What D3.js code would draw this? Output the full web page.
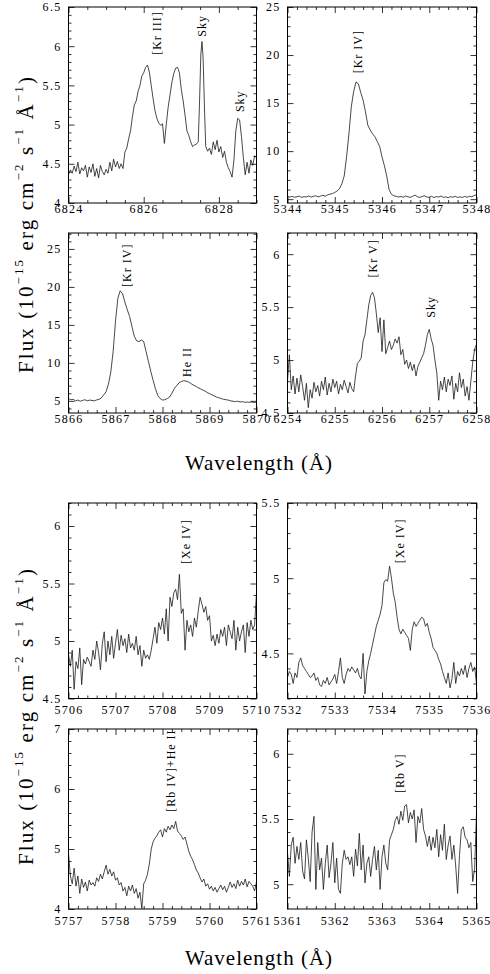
<!DOCTYPE html>
<html lang="en">
<head>
<meta charset="utf-8">
<title>Kr, Xe and Rb emission line profiles</title>
<script src="https://d3js.org/d3.v7.min.js"></script>
<style>
  body { margin: 0; background: #fff; }
  svg { display: block; }
  text { font-family: "Liberation Serif", "DejaVu Serif", serif; fill: #000; }
  .tick text { font-size: 12px; letter-spacing: 1.3px; }
  .tick line { stroke: #000; stroke-width: 0.8; }
  .frame { fill: none; stroke: #000; stroke-width: 1; }
  .spec { fill: none; stroke: #1a1a1a; stroke-width: 0.8; }
  .ion { font-size: 12px; letter-spacing: 1px; }
  .axis-title { font-size: 21px; letter-spacing: 1px; }
  .y-title { font-size: 21px; letter-spacing: 2.1px; }
</style>
</head>
<body>
<div id="chart"></div>
<script>
// spectra: [wavelength (A), flux (1e-15 erg cm-2 s-1 A-1)]
const krIII6826 = [
  [6824.00,4.36],[6824.05,4.42],[6824.10,4.38],[6824.15,4.47],[6824.20,4.40],[6824.25,4.52],[6824.30,4.37],[6824.35,4.45],
  [6824.40,4.41],[6824.45,4.48],[6824.50,4.33],[6824.55,4.46],[6824.60,4.39],[6824.65,4.50],[6824.70,4.34],[6824.75,4.44],
  [6824.80,4.32],[6824.85,4.48],[6824.90,4.40],[6824.95,4.36],[6825.00,4.43],[6825.05,4.38],[6825.10,4.52],[6825.15,4.41],
  [6825.20,4.56],[6825.25,4.46],[6825.30,4.53],[6825.35,4.44],[6825.40,4.50],[6825.45,4.44],[6825.50,4.65],[6825.55,4.70],
  [6825.60,4.82],[6825.65,4.92],[6825.70,5.10],[6825.75,5.25],[6825.80,5.30],[6825.85,5.42],[6825.90,5.50],[6825.95,5.62],
  [6826.00,5.66],[6826.05,5.73],[6826.10,5.76],[6826.15,5.67],[6826.20,5.50],[6826.25,5.33],[6826.30,5.18],[6826.35,5.08],
  [6826.40,5.02],[6826.45,4.99],[6826.50,5.01],[6826.55,4.76],[6826.60,5.00],[6826.65,5.22],[6826.70,5.38],[6826.75,5.54],
  [6826.80,5.65],[6826.85,5.72],[6826.90,5.73],[6826.95,5.66],[6827.00,5.45],[6827.05,5.30],[6827.10,5.12],[6827.15,4.92],
  [6827.20,4.86],[6827.25,4.78],[6827.30,4.72],[6827.35,4.74],[6827.40,4.75],[6827.45,4.78],[6827.48,5.20],[6827.52,5.90],
  [6827.55,6.06],[6827.58,5.85],[6827.62,5.15],[6827.65,4.72],[6827.70,4.66],[6827.75,4.70],[6827.80,4.62],[6827.85,4.78],
  [6827.90,4.68],[6827.95,4.80],[6828.00,4.65],[6828.05,4.72],[6828.10,4.58],[6828.15,4.66],[6828.20,4.52],[6828.25,4.45],
  [6828.30,4.40],[6828.35,4.33],[6828.40,4.55],[6828.45,4.92],[6828.50,5.08],[6828.55,5.06],[6828.60,4.85],[6828.65,4.58],
  [6828.70,4.36],[6828.75,4.52],[6828.80,4.38],[6828.85,4.55],[6828.90,4.48],[6828.95,4.60],[6829.00,4.58]
];

const krIV5346 = [
  [5344.00,5.30],[5344.05,5.22],[5344.10,5.28],[5344.15,5.20],[5344.20,5.25],[5344.25,5.31],[5344.30,5.18],[5344.35,5.27],
  [5344.40,5.22],[5344.45,5.33],[5344.50,5.21],[5344.55,5.29],[5344.60,5.35],[5344.65,5.24],[5344.70,5.32],[5344.75,5.40],
  [5344.80,5.30],[5344.85,5.45],[5344.90,5.52],[5344.95,5.58],[5345.00,5.70],[5345.05,5.85],[5345.10,6.10],[5345.15,6.60],
  [5345.20,7.40],[5345.25,9.40],[5345.30,11.80],[5345.35,14.60],[5345.40,16.20],[5345.45,17.20],[5345.50,17.00],[5345.55,16.10],
  [5345.60,15.30],[5345.65,14.10],[5345.70,12.70],[5345.75,12.20],[5345.80,11.80],[5345.85,11.50],[5345.90,11.00],[5345.95,10.50],
  [5346.00,9.40],[5346.05,8.50],[5346.10,7.40],[5346.15,6.00],[5346.20,5.50],[5346.25,5.35],[5346.30,5.30],[5346.35,5.22],
  [5346.40,5.28],[5346.45,5.20],[5346.50,5.33],[5346.55,5.24],[5346.60,5.19],[5346.65,5.30],[5346.70,5.42],[5346.75,5.25],
  [5346.80,5.18],[5346.85,5.28],[5346.90,5.35],[5346.95,5.22],[5347.00,5.20],[5347.05,5.30],[5347.10,5.16],[5347.15,5.27],
  [5347.20,5.22],[5347.25,5.32],[5347.30,5.18],[5347.35,5.25],[5347.40,5.15],[5347.45,5.26],[5347.50,5.20],[5347.55,5.30],
  [5347.60,5.17],[5347.65,5.24],[5347.70,5.18],[5347.75,5.28],[5347.80,5.20],[5347.85,5.30],[5347.90,5.25],[5347.95,5.38],
  [5348.00,5.45]
];

const krIV5868 = [
  [5866.00,5.30],[5866.05,5.15],[5866.10,5.20],[5866.15,5.00],[5866.20,5.10],[5866.25,4.95],[5866.30,5.05],[5866.35,5.15],
  [5866.40,5.00],[5866.45,5.10],[5866.50,5.05],[5866.55,5.00],[5866.60,5.12],[5866.65,5.20],[5866.70,5.40],[5866.75,5.80],
  [5866.80,6.20],[5866.85,7.20],[5866.90,8.80],[5866.95,11.50],[5867.00,15.50],[5867.05,18.50],[5867.10,19.50],[5867.15,19.10],
  [5867.20,18.00],[5867.25,17.00],[5867.30,16.10],[5867.35,14.80],[5867.40,13.50],[5867.45,12.90],[5867.50,12.80],[5867.55,13.00],
  [5867.60,12.80],[5867.65,11.50],[5867.70,10.20],[5867.75,8.90],[5867.80,7.70],[5867.85,6.60],[5867.90,5.70],[5867.95,5.30],
  [5868.00,5.10],[5868.05,5.15],[5868.10,5.30],[5868.15,5.50],[5868.20,6.00],[5868.25,6.60],[5868.30,7.00],[5868.35,7.35],
  [5868.40,7.55],[5868.45,7.65],[5868.50,7.60],[5868.55,7.50],[5868.60,7.30],[5868.65,7.10],[5868.70,6.95],[5868.75,6.75],
  [5868.80,6.60],[5868.85,6.45],[5868.90,6.30],[5868.95,6.10],[5869.00,5.95],[5869.05,5.80],[5869.10,5.65],[5869.15,5.50],
  [5869.20,5.40],[5869.25,5.30],[5869.30,5.20],[5869.35,5.15],[5869.40,5.10],[5869.45,5.00],[5869.50,4.95],[5869.55,4.90],
  [5869.60,4.95],[5869.65,4.85],[5869.70,4.90],[5869.75,4.80],[5869.80,4.85],[5869.85,4.80],[5869.90,4.85],[5869.95,4.78],
  [5870.00,4.85]
];

const krV6256 = [
  [6254.00,4.80],[6254.04,5.05],[6254.08,4.72],[6254.12,4.85],[6254.16,4.68],[6254.20,4.83],[6254.24,4.70],[6254.28,4.86],
  [6254.32,4.75],[6254.36,4.62],[6254.40,4.78],[6254.44,4.55],[6254.48,4.72],[6254.52,4.64],[6254.56,4.79],[6254.60,4.70],
  [6254.64,4.76],[6254.68,4.66],[6254.72,4.80],[6254.76,4.72],[6254.80,4.84],[6254.84,4.67],[6254.88,4.78],[6254.92,4.70],
  [6254.96,4.82],[6255.00,4.74],[6255.04,4.80],[6255.08,4.68],[6255.12,4.77],[6255.16,4.72],[6255.20,4.81],[6255.24,4.75],
  [6255.28,4.69],[6255.32,4.79],[6255.36,4.73],[6255.40,4.70],[6255.44,4.85],[6255.48,4.97],[6255.52,4.99],[6255.56,5.02],
  [6255.60,5.18],[6255.64,5.24],[6255.68,5.38],[6255.72,5.52],[6255.76,5.61],[6255.80,5.64],[6255.84,5.59],[6255.88,5.44],
  [6255.92,5.26],[6255.96,5.40],[6256.00,5.08],[6256.04,5.38],[6256.08,5.06],[6256.12,5.12],[6256.16,5.18],[6256.20,5.10],
  [6256.24,5.14],[6256.28,5.20],[6256.32,5.16],[6256.36,5.22],[6256.40,5.05],[6256.44,5.10],[6256.48,4.96],[6256.52,5.00],
  [6256.56,4.92],[6256.60,4.98],[6256.64,4.90],[6256.68,4.96],[6256.72,4.85],[6256.76,4.94],[6256.80,4.98],[6256.84,5.02],
  [6256.88,5.06],[6256.92,5.14],[6256.96,5.24],[6257.00,5.29],[6257.04,5.20],[6257.08,5.14],[6257.12,5.00],[6257.16,4.88],
  [6257.20,4.62],[6257.24,4.80],[6257.28,4.72],[6257.32,4.84],[6257.36,4.70],[6257.40,4.82],[6257.44,4.76],[6257.48,4.85],
  [6257.52,4.63],[6257.56,4.78],[6257.60,4.70],[6257.64,4.88],[6257.68,4.74],[6257.72,4.82],[6257.76,4.66],[6257.80,4.75],
  [6257.84,4.62],[6257.88,4.80],[6257.92,4.98],[6257.96,5.10],[6258.00,5.15]
];

const xeIV5709 = [
  [5706.00,4.88],[5706.04,4.78],[5706.08,4.92],[5706.12,4.58],[5706.16,4.82],[5706.20,4.76],[5706.24,4.94],[5706.28,4.62],
  [5706.32,4.84],[5706.36,4.80],[5706.40,4.86],[5706.44,4.82],[5706.48,4.78],[5706.52,4.92],[5706.56,4.84],[5706.60,5.00],
  [5706.64,4.90],[5706.68,4.75],[5706.72,4.98],[5706.76,5.08],[5706.80,4.82],[5706.84,5.00],[5706.88,4.88],[5706.92,5.04],
  [5706.96,4.85],[5707.00,4.98],[5707.04,5.10],[5707.08,4.92],[5707.12,5.05],[5707.16,4.96],[5707.20,5.02],[5707.24,4.90],
  [5707.28,5.06],[5707.32,4.94],[5707.36,4.98],[5707.40,4.92],[5707.44,5.04],[5707.48,4.88],[5707.52,4.96],[5707.56,4.78],
  [5707.60,4.92],[5707.64,4.85],[5707.68,4.88],[5707.72,4.84],[5707.76,4.92],[5707.80,5.02],[5707.84,5.12],[5707.88,4.98],
  [5707.92,5.16],[5707.96,5.10],[5708.00,5.20],[5708.04,5.06],[5708.08,5.28],[5708.12,5.00],[5708.16,5.38],[5708.20,5.30],
  [5708.24,5.42],[5708.28,5.45],[5708.32,5.36],[5708.36,5.58],[5708.40,5.24],[5708.44,5.28],[5708.48,4.92],[5708.52,5.18],
  [5708.56,5.08],[5708.60,5.14],[5708.64,5.04],[5708.68,5.20],[5708.72,5.12],[5708.76,5.26],[5708.80,5.38],[5708.84,5.32],
  [5708.88,5.25],[5708.92,5.30],[5708.96,5.18],[5709.00,5.22],[5709.04,5.00],[5709.08,5.05],[5709.12,4.96],[5709.16,5.06],
  [5709.20,4.98],[5709.24,5.10],[5709.28,5.04],[5709.32,5.12],[5709.36,4.96],[5709.40,5.14],[5709.44,5.08],[5709.48,5.02],
  [5709.52,5.18],[5709.56,4.92],[5709.60,5.12],[5709.64,5.00],[5709.68,5.08],[5709.72,5.14],[5709.76,4.90],[5709.80,5.16],
  [5709.84,5.04],[5709.88,5.18],[5709.92,5.10],[5709.96,5.14],[5710.00,5.42]
];

const xeIV7534 = [
  [7532.00,4.34],[7532.04,4.38],[7532.08,4.36],[7532.12,4.30],[7532.16,4.37],[7532.20,4.34],[7532.24,4.44],[7532.28,4.47],
  [7532.32,4.42],[7532.36,4.40],[7532.40,4.38],[7532.44,4.36],[7532.48,4.34],[7532.52,4.35],[7532.56,4.37],[7532.60,4.32],
  [7532.64,4.34],[7532.68,4.29],[7532.72,4.28],[7532.76,4.32],[7532.80,4.30],[7532.84,4.34],[7532.88,4.29],[7532.92,4.31],
  [7532.96,4.33],[7533.00,4.36],[7533.04,4.30],[7533.08,4.38],[7533.12,4.47],[7533.16,4.34],[7533.20,4.30],[7533.24,4.36],
  [7533.28,4.40],[7533.32,4.38],[7533.36,4.41],[7533.40,4.39],[7533.44,4.37],[7533.48,4.40],[7533.52,4.35],[7533.56,4.33],
  [7533.60,4.50],[7533.64,4.23],[7533.68,4.38],[7533.72,4.45],[7533.76,4.50],[7533.80,4.56],[7533.84,4.62],[7533.88,4.68],
  [7533.92,4.72],[7533.96,4.76],[7534.00,4.82],[7534.04,4.97],[7534.08,4.99],[7534.12,4.98],[7534.16,5.08],[7534.20,5.00],
  [7534.24,4.90],[7534.28,4.84],[7534.32,4.74],[7534.36,4.66],[7534.40,4.63],[7534.44,4.66],[7534.48,4.64],[7534.52,4.62],
  [7534.56,4.60],[7534.60,4.52],[7534.64,4.66],[7534.68,4.71],[7534.72,4.68],[7534.76,4.70],[7534.80,4.72],[7534.84,4.74],
  [7534.88,4.73],[7534.92,4.68],[7534.96,4.70],[7535.00,4.64],[7535.04,4.60],[7535.08,4.54],[7535.12,4.52],[7535.16,4.50],
  [7535.20,4.46],[7535.24,4.43],[7535.28,4.38],[7535.32,4.34],[7535.36,4.30],[7535.40,4.37],[7535.44,4.27],[7535.48,4.33],
  [7535.52,4.44],[7535.56,4.30],[7535.60,4.38],[7535.64,4.35],[7535.68,4.40],[7535.72,4.36],[7535.76,4.42],[7535.80,4.34],
  [7535.84,4.40],[7535.88,4.44],[7535.92,4.38],[7535.96,4.41],[7536.00,4.30]
];

const rbIV5759 = [
  [5757.00,4.93],[5757.04,4.55],[5757.08,4.42],[5757.12,4.68],[5757.16,4.38],[5757.20,4.55],[5757.24,4.26],[5757.28,4.50],
  [5757.32,4.36],[5757.36,4.45],[5757.40,4.30],[5757.44,4.48],[5757.48,4.40],[5757.52,4.44],[5757.56,4.38],[5757.60,4.52],
  [5757.64,4.46],[5757.68,4.58],[5757.72,4.50],[5757.76,4.62],[5757.80,4.73],[5757.84,4.58],[5757.88,4.66],[5757.92,4.55],
  [5757.96,4.62],[5758.00,4.48],[5758.04,4.52],[5758.08,4.40],[5758.12,4.44],[5758.16,4.30],[5758.20,4.36],[5758.24,4.22],
  [5758.28,4.38],[5758.32,4.30],[5758.36,4.40],[5758.40,4.26],[5758.44,4.34],[5758.48,4.18],[5758.52,4.28],[5758.56,4.01],
  [5758.60,4.42],[5758.64,4.48],[5758.68,4.58],[5758.72,4.75],[5758.76,5.00],[5758.80,5.12],[5758.84,5.18],[5758.88,5.22],
  [5758.92,5.28],[5758.96,5.32],[5759.00,5.20],[5759.04,5.34],[5759.08,5.28],[5759.12,5.38],[5759.16,5.32],[5759.20,5.40],
  [5759.24,5.34],[5759.28,5.46],[5759.32,5.30],[5759.36,5.26],[5759.40,5.22],[5759.44,5.16],[5759.48,5.20],[5759.52,5.08],
  [5759.56,4.96],[5759.60,4.88],[5759.64,4.82],[5759.68,4.74],[5759.72,4.65],[5759.76,4.60],[5759.80,4.52],[5759.84,4.45],
  [5759.88,4.50],[5759.92,4.38],[5759.96,4.42],[5760.00,4.33],[5760.04,4.38],[5760.08,4.30],[5760.12,4.36],[5760.16,4.28],
  [5760.20,4.34],[5760.24,4.40],[5760.28,4.32],[5760.32,4.38],[5760.36,4.28],[5760.40,4.36],[5760.44,4.45],[5760.48,4.36],
  [5760.52,4.42],[5760.56,4.34],[5760.60,4.48],[5760.64,4.38],[5760.68,4.46],[5760.72,4.40],[5760.76,4.50],[5760.80,4.37],
  [5760.84,4.46],[5760.88,4.42],[5760.92,4.38],[5760.96,4.30],[5761.00,4.45]
];

const rbV5363 = [
  [5361.00,5.24],[5361.04,5.06],[5361.08,5.30],[5361.12,5.36],[5361.16,5.16],[5361.20,5.29],[5361.24,5.19],[5361.28,5.32],
  [5361.32,5.10],[5361.36,5.04],[5361.40,5.34],[5361.44,5.20],[5361.48,5.02],[5361.52,5.40],[5361.56,5.52],[5361.60,4.96],
  [5361.64,5.32],[5361.68,5.11],[5361.72,5.20],[5361.76,4.96],[5361.80,5.16],[5361.84,5.30],[5361.88,5.05],[5361.92,5.16],
  [5361.96,5.32],[5362.00,5.01],[5362.04,5.20],[5362.08,4.96],[5362.12,4.93],[5362.16,5.16],[5362.20,5.26],[5362.24,5.19],
  [5362.28,5.21],[5362.32,5.15],[5362.36,5.21],[5362.40,5.06],[5362.44,5.27],[5362.48,5.14],[5362.52,5.39],[5362.56,5.11],
  [5362.60,5.30],[5362.64,5.01],[5362.68,5.16],[5362.72,5.21],[5362.76,5.06],[5362.80,5.19],[5362.84,5.29],[5362.88,5.11],
  [5362.92,5.26],[5362.96,4.96],[5363.00,5.21],[5363.04,5.30],[5363.08,5.16],[5363.12,5.11],[5363.16,5.34],[5363.20,5.38],
  [5363.24,5.42],[5363.28,5.49],[5363.32,5.52],[5363.36,5.46],[5363.40,5.56],[5363.44,5.49],[5363.48,5.60],[5363.52,5.61],
  [5363.56,5.47],[5363.60,5.55],[5363.64,5.50],[5363.68,5.57],[5363.72,5.32],[5363.76,5.52],[5363.80,5.47],[5363.84,5.58],
  [5363.88,5.42],[5363.92,5.37],[5363.96,5.29],[5364.00,5.37],[5364.04,5.26],[5364.08,5.36],[5364.12,5.28],[5364.16,5.42],
  [5364.20,5.21],[5364.24,5.38],[5364.28,5.26],[5364.32,5.46],[5364.36,5.19],[5364.40,5.30],[5364.44,5.37],[5364.48,5.19],
  [5364.52,5.30],[5364.56,5.14],[5364.60,4.93],[5364.64,5.22],[5364.68,5.42],[5364.72,5.44],[5364.76,5.36],[5364.80,5.34],
  [5364.84,5.28],[5364.88,5.32],[5364.92,5.02],[5364.96,5.12],[5365.00,5.55]
];

// panel grid (page pixels); labels under the lower figure sit further down
const colX = [[68.5, 256.5], [287.5, 476.5]];
const rowY = [[7, 203], [233, 413], [503, 698.5], [729, 909]];
const rowLabelPad = [1.5, 1.5, 7, 7];

const panels = [
  { data: krIII6826, col: 0, row: 0, xDomain: [6824, 6829], yDomain: [4, 6.5],
    xMajor: [6824, 6826, 6828], xStep: 0.5, yMajor: [4, 4.5, 5, 5.5, 6, 6.5], yStep: 0.1,
    ions: [{ text: "[Kr III]", wl: 6826.35, flux: 5.89 }, { text: "Sky", wl: 6827.54, flux: 6.12 }, { text: "Sky", wl: 6828.56, flux: 5.16 }] },
  { data: krIV5346, col: 1, row: 0, xDomain: [5344, 5348], yDomain: [4.6, 25],
    xMajor: [5344, 5345, 5346, 5347, 5348], xStep: 0.2, yMajor: [5, 10, 15, 20, 25], yStep: 1,
    ions: [{ text: "[Kr IV]", wl: 5345.49, flux: 18.1 }] },
  { data: krIV5868, col: 0, row: 1, xDomain: [5866, 5870], yDomain: [3.4, 27.1],
    xMajor: [5866, 5867, 5868, 5869, 5870], xStep: 0.2, yMajor: [5, 10, 15, 20, 25], yStep: 1,
    ions: [{ text: "[Kr IV]", wl: 5867.25, flux: 20.0 }, { text: "He II", wl: 5868.52, flux: 8.14 }] },
  { data: krV6256, col: 1, row: 1, xDomain: [6254, 6258], yDomain: [4.5, 6.2],
    xMajor: [6254, 6255, 6256, 6257, 6258], xStep: 0.2, yMajor: [4.5, 5, 5.5, 6], yStep: 0.1,
    ions: [{ text: "[Kr V]", wl: 6255.80, flux: 5.78 }, { text: "Sky", wl: 6257.03, flux: 5.40 }] },
  { data: xeIV5709, col: 0, row: 2, xDomain: [5706, 5710], yDomain: [4.5, 6.2],
    xMajor: [5706, 5707, 5708, 5709, 5710], xStep: 0.2, yMajor: [4.5, 5, 5.5, 6], yStep: 0.1,
    ions: [{ text: "[Xe IV]", wl: 5708.49, flux: 5.67 }] },
  { data: xeIV7534, col: 1, row: 2, xDomain: [7532, 7536], yDomain: [4.2, 5.5],
    xMajor: [7532, 7533, 7534, 7535, 7536], xStep: 0.2, yMajor: [4.5, 5, 5.5], yStep: 0.1,
    ions: [{ text: "[Xe IV]", wl: 7534.38, flux: 5.10 }] },
  { data: rbIV5759, col: 0, row: 3, xDomain: [5757, 5761], yDomain: [4, 7],
    xMajor: [5757, 5758, 5759, 5760, 5761], xStep: 0.2, yMajor: [4, 5, 6, 7], yStep: 0.2,
    ions: [{ text: "[Rb IV]+He II", wl: 5759.18, flux: 5.62 }] },
  { data: rbV5363, col: 1, row: 3, xDomain: [5361, 5365], yDomain: [4.81, 6.19],
    xMajor: [5361, 5362, 5363, 5364, 5365], xStep: 0.2, yMajor: [5, 5.5, 6], yStep: 0.1,
    ions: [{ text: "[Rb V]", wl: 5363.38, flux: 5.70 }] }
];

const W = 490, H = 974;
const svg = d3.select("#chart").append("svg")
  .attr("width", W).attr("height", H)
  .attr("viewBox", `0 0 ${W} ${H}`);

// minor tick values between the domain ends, skipping the major ones
function minorTicks(domain, step, major) {
  const out = [];
  const first = Math.ceil(domain[0] / step - 1e-6);
  const last = Math.floor(domain[1] / step + 1e-6);
  for (let i = first; i <= last; i++) {
    const v = +(i * step).toFixed(4);
    if (!major.some(m => Math.abs(m - v) < 1e-6)) out.push(v);
  }
  return out;
}

function styleAxis(sel) {
  sel.select(".domain").remove();
}

panels.forEach((p, i) => {
  const [x0, x1] = colX[p.col];
  const [y0, y1] = rowY[p.row];
  const x = d3.scaleLinear().domain(p.xDomain).range([x0, x1]);
  const y = d3.scaleLinear().domain(p.yDomain).range([y1, y0]);
  const g = svg.append("g").attr("class", "panel");

  g.append("clipPath").attr("id", "clip" + i)
    .append("rect").attr("x", x0).attr("y", y0).attr("width", x1 - x0).attr("height", y1 - y0);

  const line = d3.line().x(d => x(d[0])).y(d => y(d[1]));
  g.append("path").datum(p.data)
    .attr("class", "spec")
    .attr("clip-path", `url(#clip${i})`)
    .attr("d", line);

  const xMinor = minorTicks(p.xDomain, p.xStep, p.xMajor);
  const yMinor = minorTicks(p.yDomain, p.yStep, p.yMajor);
  const fmt = d => String(d);

  // bottom
  g.append("g").attr("transform", `translate(0,${y1})`)
    .call(d3.axisBottom(x).tickValues(p.xMajor).tickSize(-6).tickPadding(rowLabelPad[p.row]).tickFormat(fmt)).call(styleAxis);
  g.append("g").attr("transform", `translate(0,${y1})`)
    .call(d3.axisBottom(x).tickValues(xMinor).tickSize(-3).tickFormat("")).call(styleAxis);
  // top
  g.append("g").attr("transform", `translate(0,${y0})`)
    .call(d3.axisTop(x).tickValues(p.xMajor).tickSize(-6).tickFormat("")).call(styleAxis);
  g.append("g").attr("transform", `translate(0,${y0})`)
    .call(d3.axisTop(x).tickValues(xMinor).tickSize(-3).tickFormat("")).call(styleAxis);
  // left
  g.append("g").attr("transform", `translate(${x0},0)`)
    .call(d3.axisLeft(y).tickValues(p.yMajor).tickSize(-6).tickPadding(7).tickFormat(fmt)).call(styleAxis);
  g.append("g").attr("transform", `translate(${x0},0)`)
    .call(d3.axisLeft(y).tickValues(yMinor).tickSize(-3).tickFormat("")).call(styleAxis);
  // right
  g.append("g").attr("transform", `translate(${x1},0)`)
    .call(d3.axisRight(y).tickValues(p.yMajor).tickSize(-6).tickFormat("")).call(styleAxis);
  g.append("g").attr("transform", `translate(${x1},0)`)
    .call(d3.axisRight(y).tickValues(yMinor).tickSize(-3).tickFormat("")).call(styleAxis);

  g.selectAll(".tick text").attr("font-family", null).attr("font-size", null).attr("fill", "#000");

  g.append("rect").attr("class", "frame")
    .attr("x", x0).attr("y", y0).attr("width", x1 - x0).attr("height", y1 - y0);

  // line identifications, written upward
  g.selectAll("text.ion").data(p.ions).join("text")
    .attr("class", "ion")
    .attr("transform", d => `translate(${x(d.wl)},${y(d.flux)}) rotate(-90)`)
    .attr("dominant-baseline", "central")
    .text(d => d.text);
});

// axis titles for the two figures
function yTitle(cy) {
  const t = svg.append("text").attr("class", "y-title")
    .attr("text-anchor", "middle")
    .attr("transform", `translate(33,${cy}) rotate(-90)`);
  const parts = [["Flux (10", 0], ["\u221215", 1], [" erg cm", 0], ["\u22122", 1], [" s", 0], ["\u22121", 1], [" \u00c5", 0], ["\u22121", 1], [")", 0]];
  let up = false;
  parts.forEach(([s, sup]) => {
    const ts = t.append("tspan").text(s);
    if (sup && !up) { ts.attr("dy", -10).attr("font-size", 13); up = true; }
    else if (sup) { ts.attr("font-size", 13); }
    else if (up) { ts.attr("dy", 10); up = false; }
  });
}
yTitle(224);
yTitle(716);

svg.append("text").attr("class", "axis-title")
  .attr("x", 259).attr("y", 470).attr("text-anchor", "middle")
  .text("Wavelength (\u00c5)");
svg.append("text").attr("class", "axis-title")
  .attr("x", 259).attr("y", 965).attr("text-anchor", "middle")
  .text("Wavelength (\u00c5)");
</script>
</body>
</html>
